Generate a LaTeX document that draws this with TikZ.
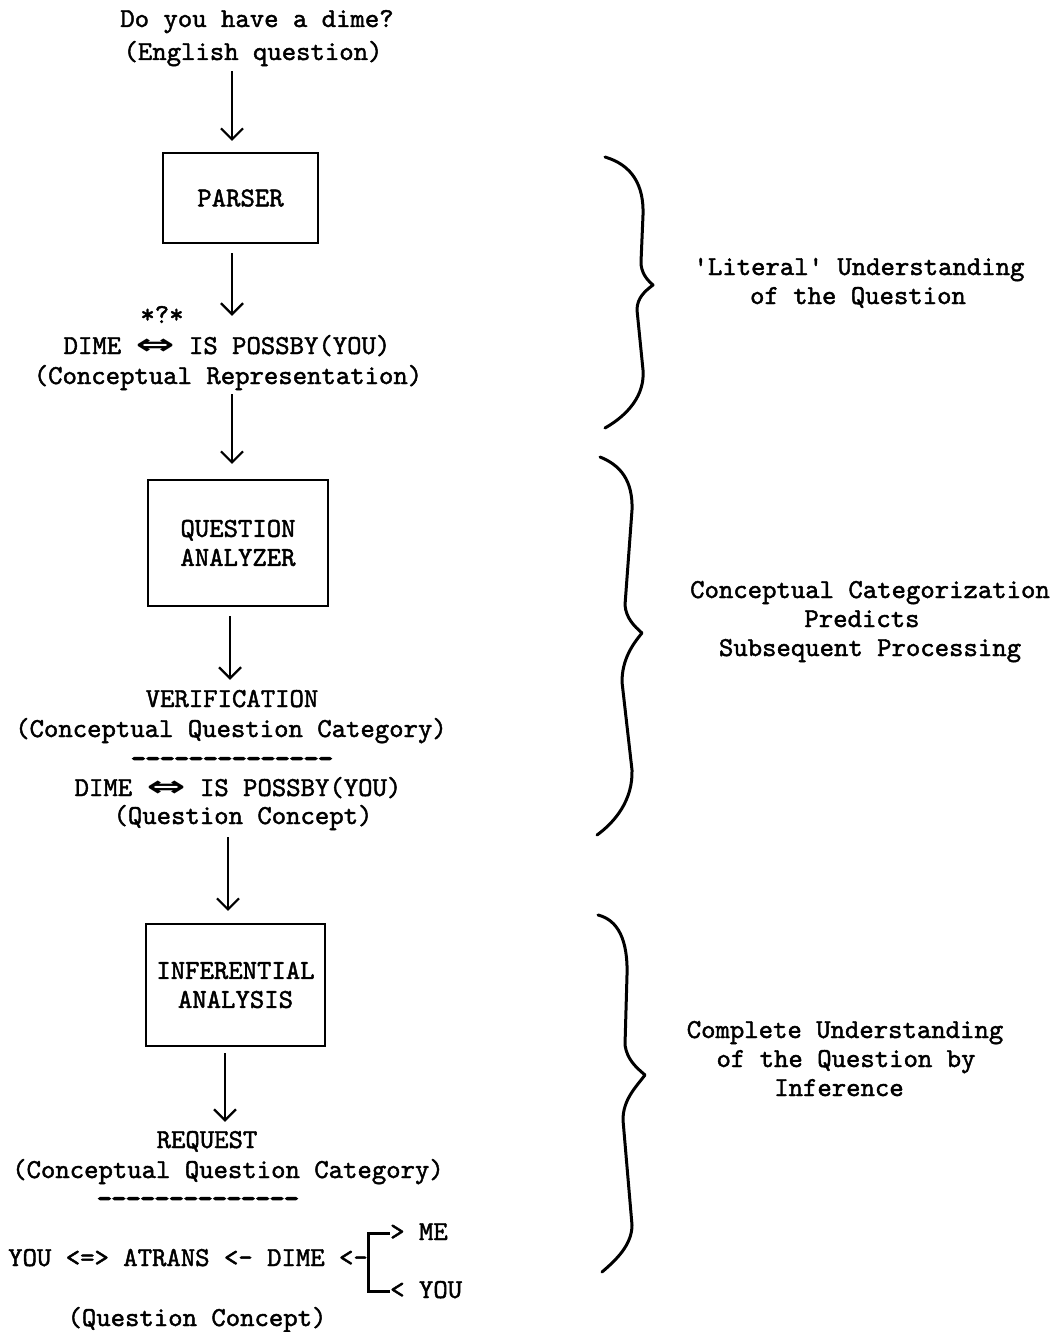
\documentclass[tikz,border=0pt]{standalone}
\usepackage{fontspec}
\usetikzlibrary{arrows.meta}
\newfontfamily\tw{lmmono10-regular.otf}[FakeBold=1.6]
\newfontfamily\twheavy{lmmono10-regular.otf}[FakeBold=5]
\newfontfamily\dv{DejaVu Sans}
\newcommand{\dblarrow}{\scalebox{1.7}[1.05]{\dv\bfseries ⇔}}
\tikzset{
  txt/.style={font={\tw\fontsize{27.4}{29}\selectfont}, inner sep=0pt, text height=20pt, text depth=6pt, anchor=base},
  seprow/.style={font={\twheavy\fontsize{27.4}{29}\selectfont}, inner sep=0pt, text height=10pt, text depth=0pt, anchor=base},
  procbox/.style={draw, line width=2.2pt, font={\tw\fontsize{27.4}{29}\selectfont}, align=center, inner sep=0pt},
  arr/.style={line width=2.2pt, -{Straight Barb[length=11pt,width=22pt]}},
  bracebar/.style={line width=3pt, line cap=round, line join=round},
  bracketline/.style={line width=3pt}
}
\begin{document}
\begin{tikzpicture}[x=1pt,y=-1pt]
\fill[white] (0,0) rectangle (1060,1332);
\useasboundingbox (0,0) rectangle (1060,1332);
\coordinate (c1) at (232,0);
\coordinate (c4) at (230,0);
\coordinate (c5) at (228,0);
\coordinate (c6) at (225,0);

% left column
\node[txt] (q) at (257,27) {Do you have a dime?};
\node[txt] (eng) at (253,60) {(English question)};
\node[procbox, minimum width=155pt, minimum height=90pt] (parser) at (240.5,198) {PARSER};
\node[txt] (star) at (162,323) {*?*};
\node[txt] (dime1) at (227,354) {DIME \dblarrow{} IS POSSBY(YOU)};
\node[txt] (rep) at (228,384) {(Conceptual Representation)};
\node[procbox, minimum width=180pt, minimum height=126pt] (qa) at (238,543) {QUESTION\\ANALYZER};
\node[txt] (verif) at (232,707) {VERIFICATION};
\node[txt] (cat1) at (231,737) {(Conceptual Question Category)};
\node[seprow] (sep1) at (232,767) {--------------};
\node[txt] (dime2) at (238,796) {DIME \dblarrow{} IS POSSBY(YOU)};
\node[txt] (qc1) at (243,824) {(Question Concept)};
\node[procbox, minimum width=179pt, minimum height=122pt] (ia) at (235.5,985) {INFERENTIAL\\ANALYSIS};
\node[txt] (req) at (207,1148) {REQUEST};
\node[txt] (cat2) at (228,1178) {(Conceptual Question Category)};
\node[seprow] (sep2) at (198,1207) {--------------};
\node[txt, anchor=base west] (atrans) at (8,1266) {YOU <=> ATRANS <- DIME <-};
\node[txt, anchor=base west] (me) at (390,1240) {> ME};
\node[txt, anchor=base west] (you) at (390,1298) {< YOU};
\node[txt] (qc2) at (197,1326) {(Question Concept)};

% arrows
\draw[arr, shorten <=5pt, shorten >=11pt] (eng.south -| c1) -- (parser.north -| c1);
\draw[arr, shorten <=9pt, shorten >=18pt] (parser.south -| c1) -- (dime1.north -| c1);
\draw[arr, shorten <=4pt, shorten >=15pt] (rep.south -| c1) -- (qa.north -| c1);
\draw[arr, shorten <=9pt, shorten >=7pt] (qa.south -| c4) -- (verif.north -| c4);
\draw[arr, shorten <=7pt, shorten >=12pt] (qc1.south -| c5) -- (ia.north -| c5);
\draw[arr, shorten <=6pt, shorten >=6pt] (ia.south -| c6) -- (req.north -| c6);

% bracket
\draw[bracketline] (me.west) -| (you.west -| atrans.east) -- (you.west);

% braces
\draw[bracebar] (605,157) .. controls (632,165) and (644,185) .. (643,215)
  -- (641,262) .. controls (641,272) and (646,279) .. (653,285)
  .. controls (645,291) and (637,298) .. (637,310)
  -- (643,370) .. controls (645,395) and (628,415) .. (605,428);
\draw[bracebar] (600,457) .. controls (620,465) and (633,480) .. (632,510)
  -- (625,605) .. controls (626,618) and (634,626) .. (642,633)
  .. controls (632,645) and (622,660) .. (622,682)
  -- (632,770) .. controls (633,800) and (615,822) .. (597,835);
\draw[bracebar] (598,915) .. controls (618,920) and (628,940) .. (627,975)
  -- (625,1045) .. controls (627,1060) and (637,1068) .. (645,1075)
  .. controls (635,1088) and (623,1100) .. (623,1120)
  -- (632,1225) .. controls (632,1245) and (616,1260) .. (602,1272);

% right column
\node[txt] (r1a) at (859,275) {'Literal' Understanding};
\node[txt] (r1b) at (858,304) {of the Question};
\node[txt] (r2a) at (870,598) {Conceptual Categorization};
\node[txt] (r2b) at (862,627) {Predicts};
\node[txt] (r2c) at (870,656) {Subsequent Processing};
\node[txt] (r3a) at (845,1038) {Complete Understanding};
\node[txt] (r3b) at (846,1067) {of the Question by};
\node[txt] (r3c) at (839,1096) {Inference};
\end{tikzpicture}
\end{document}
